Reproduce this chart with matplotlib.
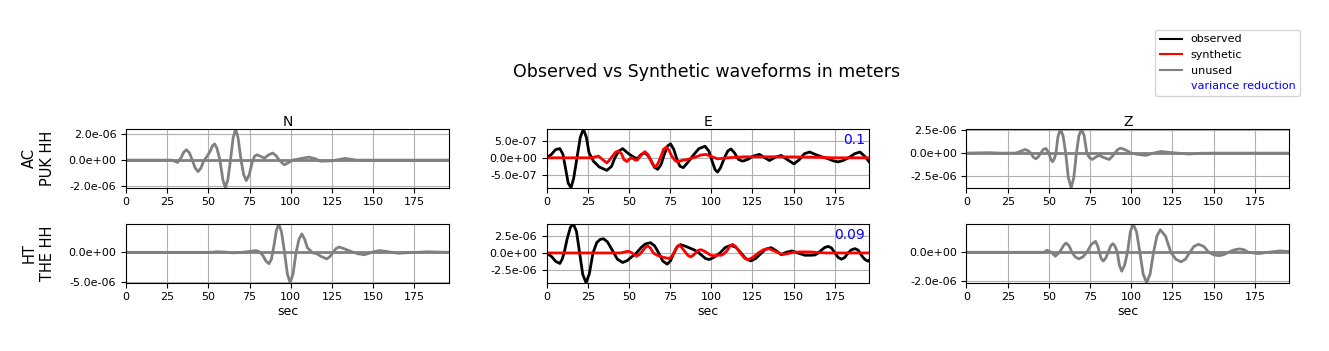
import matplotlib
matplotlib.use("Agg")
import matplotlib.pyplot as plt
from matplotlib.lines import Line2D
from matplotlib.ticker import FormatStrFormatter
import numpy as np

UNIT = 1e-6  # values below are (time s, amplitude in micrometres)

# ---- Row 1: AC PUK HH ----
n1_obs = [(0, 0), (28, 0), (31.3, -0.18), (33.5, 0.2), (35, 0.6), (36.7, 0.8), (38.5, 0.55), (40.2, 0),
          (42, -0.6), (43.7, -0.87), (45.5, -0.6), (47, -0.1), (49.8, 0.41), (51.2, 0.7), (52.5, 1.1),
          (53.8, 1.23), (55.2, 0.9), (57, 0), (58.8, -1.5), (60.3, -2.1), (61.8, -1.5), (63.4, 0),
          (65, 1.7), (66.5, 2.38), (68, 1.7), (69.8, 0), (71.4, -1.1), (73, -1.56), (74.8, -1.1),
          (76.5, -0.2), (78, 0.3), (79.6, 0.41), (81.5, 0.3), (84, 0.15), (86.5, 0.4), (89, 0.54),
          (91, 0.35), (93, 0), (96, -0.36), (98.5, -0.2), (101, 0), (106, 0.12), (111, 0.23),
          (115, 0.1), (118, -0.08), (125, -0.05), (133, 0.13), (140, 0), (196, 0)]

e1_obs = [(0, 0), (3, 0.1), (5.5, 0.24), (8.1, 0.27), (10, 0.1), (11.5, -0.3), (13.2, -0.75),
          (14.9, -0.88), (16.5, -0.6), (18.5, 0), (20.5, 0.6), (22.4, 0.85), (24.2, 0.6), (25.8, 0.15),
          (28.5, -0.1), (32, -0.27), (36.6, -0.37), (39.5, -0.25), (41.5, 0), (44, 0.2), (46.2, 0.27),
          (49, 0.15), (51.9, 0.05), (55, -0.03), (57.5, 0.1), (60, 0.15), (62.5, 0), (65.5, -0.28),
          (67.5, -0.34), (69.5, -0.2), (71.5, 0.1), (73.5, 0.35), (75.3, 0.41), (77.2, 0.25),
          (79.2, -0.05), (81, -0.25), (83, -0.29), (85.5, -0.15), (89.5, 0.1), (92.5, 0.27),
          (96.2, 0.34), (98.5, 0.2), (100.5, -0.1), (102.3, -0.35), (103.8, -0.42), (105.5, -0.3),
          (108, 0), (110, 0.2), (111.9, 0.26), (114, 0.15), (116.5, -0.05), (119, -0.1), (122, -0.05),
          (125.5, 0.05), (129.2, 0.1), (132.5, 0), (135.3, -0.08), (139, 0.02), (142.4, 0.07),
          (146, -0.05), (150.2, -0.18), (153.5, -0.05), (156.5, 0.12), (159.7, 0.17), (163, 0.1),
          (167, 0.03), (171, -0.03), (174, -0.09), (177, -0.12), (180, -0.08), (184, 0.02),
          (187, 0.12), (190.2, 0.17), (193, 0.05), (196, -0.13)]
e1_syn = [(0, 0), (27, 0), (31.5, 0.05), (34, -0.05), (36.6, -0.15), (38.5, -0.05), (40.5, 0.08),
          (42, 0.17), (43.7, 0.2), (45.5, 0.12), (47, -0.05), (48.8, -0.11), (50.5, -0.03), (51.9, 0),
          (53.5, -0.06), (55, -0.07), (57, 0.05), (59.6, 0.18), (61.5, 0.1), (63, -0.05),
          (64.8, -0.22), (66.1, -0.27), (67.5, -0.18), (69.5, 0.05), (71, 0.25), (72.6, 0.31),
          (74.3, 0.22), (76, 0.05), (78, -0.08), (79.3, -0.12), (82, -0.08), (85.5, -0.05), (91, 0.03),
          (93.5, 0.08), (96.6, 0.1), (100, 0.04), (103.8, -0.03), (110, 0), (120, 0.03), (140, 0.03),
          (160, 0.02), (175, 0), (196, 0)]

z1_obs = [(0, 0), (14, 0.05), (20, 0), (30, 0), (33.5, 0.25), (35.6, 0.4), (37.5, 0.25), (39, 0),
          (40.6, -0.45), (42.1, -0.62), (43.6, -0.4), (45, 0), (46.6, 0.4), (48.2, 0.51), (50, 0),
          (51.2, -0.7), (52.3, -0.95), (53.3, -0.6), (54.3, 0), (55.5, 1.8), (57, 2.66), (58.6, 1.9),
          (60.2, 0), (61.8, -2.7), (63.5, -3.8), (65.1, -2.7), (66.7, 0), (68.2, 1.9), (69.8, 2.66),
          (71.4, 1.9), (73, 0), (74.6, -0.5), (76.3, -0.7), (78.3, -0.45), (80.4, -0.25), (83.5, -0.5),
          (86.5, -0.7), (88.3, -0.4), (90, 0), (91.8, 0.4), (93.6, 0.55), (96.5, 0.35), (100, 0),
          (104, -0.15), (108.9, -0.25), (113.5, 0), (118, 0.18), (123, 0.08), (128, 0), (135, -0.1),
          (142, -0.02), (150, 0), (196, 0)]

# ---- Row 2: HT THE HH ----
n2_obs = [(0, 0), (50, 0), (56, 0.1), (60, 0.05), (65, -0.1), (72, 0.05), (79, 0.3), (81, 0.1),
          (83, -0.5), (85, -1.5), (86.7, -1.9), (88.2, -1.2), (89.7, 1.0), (91.2, 3.6), (92.7, 4.78),
          (94.4, 3.4), (96.2, 0), (97.9, -3.6), (99.6, -5.1), (101.4, -3.6), (103.2, 0), (105, 2.2),
          (106.7, 3.1), (108.4, 2.2), (110, 0.8), (113.3, -0.1), (115.5, -0.2), (118.5, -0.7),
          (121.8, -1.1), (123.8, -0.7), (125.6, 0), (127.5, 0.65), (129.4, 0.9), (132, 0.65),
          (137, 0.1), (141, -0.25), (144.6, -0.4), (147, -0.2), (149, 0), (153.6, 0.3), (158, 0.15),
          (165, -0.15), (172, -0.05), (183, 0.1), (196, 0)]

e2_obs = [(0, 0), (3, -0.5), (5.5, -1.2), (8.1, -1.52), (9.5, -0.9), (10.7, 0), (12.5, 2.0),
          (14.5, 3.7), (16.3, 4.19), (18.2, 3.1), (20.1, 0), (22, -3.1), (24, -4.29), (26, -3.0),
          (28.2, 0), (30.5, 1.5), (32.5, 1.95), (34.6, 2.05), (37, 1.6), (40.4, 0.2), (43, -0.9),
          (46.2, -1.38), (49, -1.1), (51.5, -0.6), (54.6, 0), (57.5, 0.8), (60, 1.3), (63.1, 1.48),
          (65.5, 1.05), (68.1, 0), (70.5, -1.15), (73.2, -1.62), (75.2, -1.15), (77.3, 0), (79.3, 0.9),
          (81.4, 1.19), (84, 1.0), (87, 0.7), (89.5, 0.45), (92, 0.1), (94, -0.3), (96.5, -0.8),
          (98.7, -0.95), (101.5, -0.65), (105.3, 0), (108.5, 0.8), (111.9, 1.1), (115, 0.8), (118, 0),
          (121, -0.85), (124, -1.14), (127, -0.8), (130, -0.1), (133, 0.55), (136.3, 0.76),
          (139.5, 0.3), (142.4, -0.24), (145.5, 0.1), (149, 0.29), (152.5, 0), (156.7, -0.33),
          (160, -0.33), (162.8, -0.3), (165, 0), (167, 0.45), (169, 0.8), (171, 0.95), (173, 0.7),
          (175, 0), (177, -0.65), (179, -0.9), (181, -0.65), (183, 0), (185, 0.45), (187.2, 0.62),
          (189.2, 0.4), (191, -0.3), (193, -0.9), (195, -1.19), (196, -1.0)]
e2_syn = [(0, 0), (45, 0), (47.5, 0.15), (49.8, 0.24), (52, 0), (54.5, -0.48), (56.5, -0.2), (58, 0.2),
          (59.8, 0.75), (61.4, 1.0), (63, 0.75), (64.8, 0), (67.1, -0.33), (70.5, -0.6), (74.4, -0.81),
          (76, -0.5), (77.5, 0), (79, 0.8), (80.4, 1.14), (82, 0.8), (84, 0.2), (85.8, -0.35),
          (87.5, -0.57), (89, -0.35), (90.5, 0), (92, 0.35), (93.6, 0.48), (95.5, 0.3), (97.5, 0),
          (99.5, -0.3), (101.7, -0.43), (103.8, -0.3), (105.8, -0.35), (107.7, -0.1), (109.5, 0.3),
          (111.2, 0.95), (112.9, 1.24), (114.7, 0.95), (117.5, 0), (120, -0.7), (122.5, -0.95),
          (125.5, -0.6), (128.5, 0), (131.5, 0.45), (135, 0.62), (139, 0.2), (143.4, -0.24),
          (147, -0.05), (150, 0.1), (155, 0.15), (160, 0.15), (165, 0.05), (170, 0), (196, 0)]

z2_obs = [(0, 0), (47, 0), (48.8, 0.14), (51.5, 0), (53.9, -0.27), (55.5, -0.1), (57, 0.1),
          (58.8, 0.45), (60.4, 0.64), (62.2, 0.45), (64, 0), (66, -0.32), (68.2, -0.45), (70.6, -0.32),
          (73, 0), (75.8, 0.55), (78.3, 0.75), (79.6, 0.45), (80.6, 0), (81.8, -0.45), (83, -0.6),
          (84.5, -0.4), (86, 0), (87.5, 0.45), (88.9, 0.59), (90.2, 0.4), (91.5, 0), (92.8, -0.9),
          (94.2, -1.3), (95.9, -0.9), (97.7, 0), (99.4, 1.4), (101.1, 1.95), (103.2, 1.4), (105.2, 0),
          (107.2, -1.5), (109.3, -2.09), (111.4, -1.5), (113.5, 0), (115.5, 1.1), (117.6, 1.55),
          (120.8, 1.1), (124, 0), (127, -0.47), (130.2, -0.66), (132.9, -0.47), (135.5, 0), (138, 0.4),
          (140.8, 0.55), (144, 0.4), (147, 0), (150, -0.17), (153, -0.23), (156, -0.17), (159, 0),
          (162.5, 0.17), (165.8, 0.23), (168.5, 0.17), (171, 0), (177, -0.09), (183, 0), (190, 0.09),
          (196, 0.05)]

stations = ["AC\nPUK HH", "HT\nTHE HH"]
components = ["N", "E", "Z"]
variance_reduction = {(0, 1): "0.1", (1, 1): "0.09"}
yticks = {
    (0, 0): [-2.0, 0.0, 2.0], (0, 1): [-0.5, 0.0, 0.5], (0, 2): [-2.5, 0.0, 2.5],
    (1, 0): [-5.0, 0.0], (1, 1): [-2.5, 0.0, 2.5], (1, 2): [-2.0, 0.0],
}
xticks = [0, 25, 50, 75, 100, 125, 150, 175]

panels = {
    (0, 0): (n1_obs, None), (0, 1): (e1_obs, e1_syn), (0, 2): (z1_obs, None),
    (1, 0): (n2_obs, None), (1, 1): (e2_obs, e2_syn), (1, 2): (z2_obs, None),
}

W, H = 1329, 351
fig = plt.figure(figsize=(W / 100, H / 100), dpi=100)
col_left = [126 / W, 546.5 / W, 966.5 / W]
row_bottom = [1 - 187.7 / H, 1 - 282.7 / H]
aw, ah = 323 / W, 58.8 / H

for (r, c), (obs, syn) in panels.items():
    ax = fig.add_axes([col_left[c], row_bottom[r], aw, ah])
    ot, ov = np.array(obs, float).T
    ov = ov * UNIT
    if syn is None:
        ax.plot(ot, ov, color="gray", lw=2)
        ax.plot([ot[0], ot[-1]], [0, 0], color="gray", lw=2)
        allv = ov
    else:
        st, sv = np.array(syn, float).T
        sv = sv * UNIT
        ax.plot(ot, ov, color="black", lw=2)
        ax.plot(st, sv, color="red", lw=2)
        allv = np.concatenate([ov, sv])
        ax.text(0.985, 0.93, variance_reduction[(r, c)], transform=ax.transAxes,
                ha="right", va="top", color="blue", fontsize=10)
    ax.set_xlim(0, 196)
    ax.set_ylim(allv.min(), allv.max())
    ax.set_xticks(xticks)
    ax.set_yticks(np.array(yticks[(r, c)]) * UNIT)
    ax.yaxis.set_major_formatter(FormatStrFormatter("%.1e"))
    ax.tick_params(labelsize=8)
    ax.grid(True)
    if r == 0:
        ax.set_title(components[c], fontsize=10, pad=2)
    if r == 1:
        ax.set_xlabel("sec", fontsize=9, labelpad=2)
    if c == 0:
        ax.set_ylabel(stations[r], fontsize=10.5, labelpad=10)

fig.suptitle("Observed vs Synthetic waveforms in meters", fontsize=12.5, x=707 / W, y=0.82)

handles = [Line2D([], [], color="black"), Line2D([], [], color="red"),
           Line2D([], [], color="gray"), Line2D([], [], color="none")]
labels = ["observed", "synthetic", "unused", "variance reduction"]
leg = fig.legend(handles, labels, loc="upper right", bbox_to_anchor=(1300 / W, 1 - 30 / H),
                 fontsize=8, borderaxespad=0)
leg.get_texts()[3].set_color("blue")

fig.savefig("out.png", dpi=100)
